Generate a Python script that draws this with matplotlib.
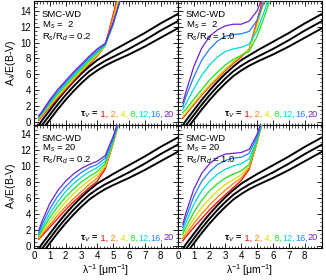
import numpy as np
import matplotlib.pyplot as plt
from matplotlib.ticker import MultipleLocator
from matplotlib.offsetbox import TextArea, HPacker, AnchoredOffsetbox

plt.rcParams['font.family'] = ['Liberation Sans', 'DejaVu Sans']
plt.rcParams['mathtext.fontset'] = 'custom'
plt.rcParams['mathtext.rm'] = 'Liberation Sans'
plt.rcParams['mathtext.it'] = 'Liberation Sans:italic'
plt.rcParams['mathtext.bf'] = 'Liberation Sans:bold'

#data
tau_v = [1, 2, 4, 8, 12, 16, 20]
colors = ['#ff0000', '#ff8000', '#d8e000', '#20e020', '#00d8d8', '#2080ff', '#7020d0']

# reference (black) curves, same in every panel
x_black = [0.3, 0.5, 1.0, 1.5, 2.0, 2.5, 3.0, 3.5, 4.0, 4.5, 5.0, 6.0, 7.0, 8.0, 9.1]
black_hi = [-0.4, 0.2, 1.5, 2.8, 4.0, 5.1, 6.1, 7.0, 7.8, 8.4, 9.0, 10.1, 11.2, 12.4, 13.6]
black_mid = [-1.0, -0.4, 0.9, 2.2, 3.4, 4.5, 5.5, 6.4, 7.1, 7.7, 8.2, 9.2, 10.3, 11.5, 12.7]
black_lo = [-1.6, -1.0, 0.3, 1.6, 2.8, 3.9, 4.9, 5.8, 6.5, 7.1, 7.6, 8.5, 9.5, 10.6, 11.8]

# colored curves, one row per tau_V
x_col = [0.3, 0.5, 1.0, 1.5, 2.0, 2.5, 3.0, 3.5, 4.0, 4.5, 5.0, 5.5, 6.0]

ms2_r02 = [
    [0.2, 0.7, 1.9, 3.0, 4.1, 5.2, 6.3, 7.3, 8.3, 9.6, 13.5, 17.5, 21.0],
    [0.3, 0.8, 2.0, 3.1, 4.2, 5.3, 6.4, 7.4, 8.4, 9.6, 13.2, 17.2, 21.0],
    [0.4, 0.9, 2.1, 3.3, 4.4, 5.5, 6.5, 7.5, 8.5, 9.5, 12.6, 16.5, 20.0],
    [0.5, 1.0, 2.3, 3.5, 4.6, 5.7, 6.7, 7.7, 8.7, 9.6, 12.3, 16.0, 20.0],
    [0.6, 1.1, 2.4, 3.7, 4.8, 5.9, 6.9, 7.9, 8.8, 9.7, 12.2, 15.7, 19.5],
    [0.7, 1.2, 2.6, 3.9, 5.0, 6.1, 7.1, 8.1, 9.0, 9.8, 12.3, 15.6, 19.5],
    [0.8, 1.3, 2.8, 4.1, 5.2, 6.3, 7.3, 8.3, 9.2, 9.9, 12.5, 15.6, 19.5],
]
ms2_r10 = [
    [0.5, 1.0, 2.2, 3.4, 4.5, 5.5, 6.5, 7.4, 8.2, 9.2, 12.8, 16.5, 20.0],
    [0.6, 1.1, 2.3, 3.5, 4.6, 5.6, 6.6, 7.5, 8.3, 9.2, 12.5, 16.2, 20.0],
    [0.7, 1.2, 2.4, 3.6, 4.7, 5.7, 6.7, 7.6, 8.4, 9.1, 12.0, 15.7, 19.5],
    [1.2, 1.6, 2.9, 4.1, 5.3, 6.3, 7.2, 7.9, 8.4, 8.9, 10.8, 13.5, 16.5],
    [1.6, 2.3, 4.2, 5.9, 7.2, 8.2, 8.9, 9.2, 9.4, 9.8, 11.5, 14.2, 17.5],
    [2.0, 3.2, 5.7, 7.8, 9.2, 10.2, 10.8, 11.0, 11.1, 11.4, 12.8, 15.5, 19.0],
    [2.4, 3.8, 7.0, 9.3, 10.8, 11.6, 12.1, 12.3, 12.3, 12.7, 14.0, 16.5, 20.0],
]
ms20_r02 = [
    [0.8, 1.2, 2.3, 3.4, 4.5, 5.5, 6.4, 7.3, 8.1, 9.6, 12.8, 16.5, 20.0],
    [0.9, 1.4, 2.6, 3.8, 4.9, 5.9, 6.8, 7.7, 8.5, 9.8, 12.8, 16.3, 20.0],
    [1.0, 1.6, 3.0, 4.3, 5.5, 6.5, 7.4, 8.2, 8.9, 10.0, 12.9, 16.3, 20.0],
    [1.2, 1.9, 3.5, 4.9, 6.1, 7.1, 8.0, 8.7, 9.3, 10.3, 13.0, 16.3, 20.0],
    [1.4, 2.2, 4.0, 5.5, 6.8, 7.8, 8.6, 9.3, 9.8, 10.6, 13.2, 16.3, 20.0],
    [1.6, 2.6, 4.6, 6.2, 7.4, 8.4, 9.2, 9.8, 10.2, 11.0, 13.4, 16.4, 20.0],
    [1.9, 3.0, 5.3, 6.9, 8.1, 9.0, 9.7, 10.2, 10.6, 11.3, 13.7, 16.6, 20.0],
]
ms20_r10 = [
    [0.6, 1.1, 2.3, 3.4, 4.5, 5.5, 6.4, 7.3, 8.2, 9.6, 13.0, 16.8, 20.5],
    [0.9, 1.4, 2.8, 4.0, 5.1, 6.1, 7.0, 7.8, 8.5, 9.8, 13.0, 16.6, 20.5],
    [1.2, 1.8, 3.4, 4.8, 5.9, 6.9, 7.7, 8.3, 8.9, 10.0, 13.1, 16.6, 20.5],
    [1.5, 2.3, 4.2, 5.7, 6.9, 7.8, 8.5, 9.0, 9.4, 10.2, 13.2, 16.6, 20.5],
    [1.9, 2.9, 5.2, 6.9, 8.1, 9.0, 9.6, 10.0, 10.3, 10.9, 13.4, 16.7, 20.5],
    [2.3, 3.5, 6.2, 8.1, 9.3, 10.2, 10.7, 11.0, 11.1, 11.6, 13.7, 16.8, 20.5],
    [2.7, 4.1, 7.1, 9.1, 10.3, 11.1, 11.5, 11.6, 11.7, 12.1, 14.0, 17.0, 20.5],
]

ms_labels = ['2', '2', '20', '20']
ms_pad = ['  ', '  ', ' ', ' ']
ratio_labels = ['0.2', '1.0', '0.2', '1.0']
panel_curves = [ms2_r02, ms2_r10, ms20_r02, ms20_r10]

#figure
fig, axes = plt.subplots(2, 2, figsize=(3.26, 2.8), dpi=100, sharex=True, sharey=True)
fig.subplots_adjust(left=0.104, right=0.988, top=0.996, bottom=0.114, wspace=0, hspace=0)

for k, ax in enumerate(axes.flat):
    for yb in (black_hi, black_mid, black_lo):
        ax.plot(x_black, yb, color='black', lw=1.4, zorder=2)
    for yc, c in zip(panel_curves[k], colors):
        ax.plot(x_col, yc, color=c, lw=0.9, zorder=3)

    ax.set_xlim(0, 9.1)
    ax.set_ylim(-0.3, 15.2)
    ax.set_xticks(range(9))
    ax.set_yticks(range(0, 15, 2))
    ax.xaxis.set_minor_locator(MultipleLocator(0.2))
    ax.yaxis.set_minor_locator(MultipleLocator(0.5))
    ax.tick_params(which='both', direction='in', top=True, right=True, labelsize=7, pad=2)
    ax.tick_params(which='major', length=3.5, width=0.6)
    ax.tick_params(which='minor', length=1.8, width=0.5)
    for s in ax.spines.values():
        s.set_linewidth(0.8)

    ax.text(0.055, 0.89, 'SMC-WD', transform=ax.transAxes, fontsize=6.8, va='center')
    ax.text(0.055, 0.805, 'M$_s$ =' + ms_pad[k] + ms_labels[k], transform=ax.transAxes,
            fontsize=6.8, va='center')
    ax.text(0.055, 0.715, 'R$_s$/R$_d$ = ' + ratio_labels[k], transform=ax.transAxes,
            fontsize=6.8, va='center')

    # tau_V legend as coloured pieces on one baseline
    pieces = (['τ$_V$ ='] + [' %d,' % tau_v[0]] + [' %d,' % t for t in tau_v[1:3]]
              + [' %d,' % tau_v[3]] + ['%d,' % t for t in tau_v[4:6]] + ['%d' % tau_v[6]])
    piece_cols = ['black'] + colors
    boxes = [TextArea(p, textprops=dict(color=c, fontsize=6.6,
                                        fontweight='bold' if c == 'black' else 'normal'))
             for p, c in zip(pieces, piece_cols)]
    pack = HPacker(children=boxes, align='baseline', pad=0, sep=0)
    ab = AnchoredOffsetbox(loc='lower right', child=pack, frameon=False,
                           pad=0.05, borderpad=0.25)
    ax.add_artist(ab)

for ax in axes[:, 0]:
    ax.set_ylabel('A$_\\lambda$/E(B-V)', fontsize=7.5, labelpad=2)
for ax in axes[1, :]:
    ax.set_xlabel('λ$^{-1}$ [μm$^{-1}$]', fontsize=7.5, labelpad=1)

fig.savefig('out.png', dpi=100)
